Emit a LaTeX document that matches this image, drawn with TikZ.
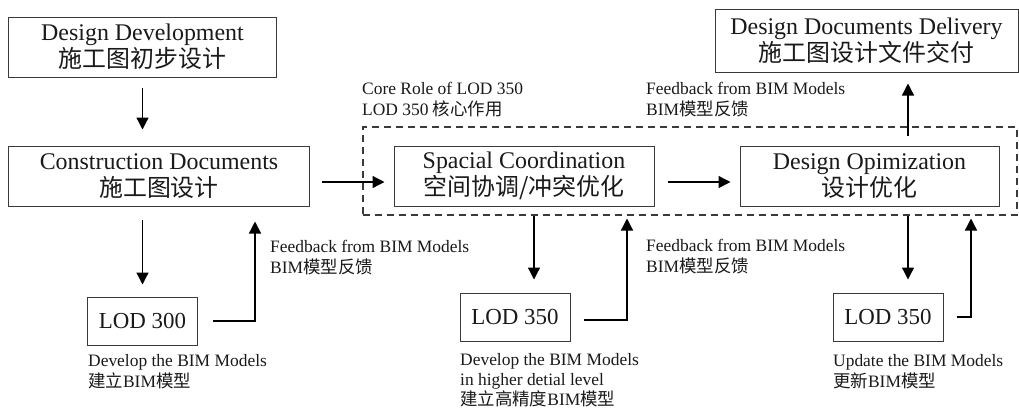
\documentclass[tikz,border=0pt]{standalone}
\usepackage{fontspec}
\setmainfont{Liberation Serif}
\newfontfamily\cjk{Noto Sans CJK SC}
\newcommand{\zh}[1]{{\cjk #1}}
\usetikzlibrary{arrows.meta}
\definecolor{ink}{HTML}{1a1a1a}
\definecolor{frame}{HTML}{3a3a3a}

\begin{document}
\begin{tikzpicture}[x=1bp, y=-1bp,
  >={Triangle[length=12bp,width=12bp]},
  box/.style={draw=frame, line width=1bp, minimum width=#1, minimum height=60bp,
    inner sep=0pt, align=center, text=ink, font=\fontsize{24}{27}\selectfont},
  lodbox/.style={draw=frame, line width=1bp, minimum width=110bp, minimum height=48bp,
    inner sep=0pt, text=ink, font=\fontsize{23}{27}\selectfont},
  note/.style={anchor=north west, inner sep=0pt, align=left, text=ink,
    font=\fontsize{17.5}{21}\selectfont},
  corebox/.style={draw=frame, line width=1.3bp, dash pattern=on 7bp off 5bp,
    minimum width=654bp, minimum height=88bp, inner sep=0pt},
  flow/.style={->, draw=black, line width=1.3bp}]

  \fill[white] (0,0) rectangle (1019,409);
  \useasboundingbox (0,0) rectangle (1019,409);

  % LOD 350 core zone
  \node[corebox] (core) at (690,171) {};

  \node[box=267bp] (dd) at (142.5,47) {Design Development\\\zh{施工图初步设计}};
  \node[box=300bp] (cd) at (159,176) {Construction Documents\\\zh{施工图设计}};
  \node[box=260bp] (sc) at (524,176) {Spacial Coordination\\\zh{空间协调/冲突优化}};
  \node[box=259bp] (op) at (869.5,176) {Design Opimization\\\zh{设计优化}};
  \node[box=303bp, minimum height=63bp] (ddd) at (866.5,40.5) {Design Documents Delivery\\\zh{施工图设计文件交付}};

  \node[lodbox] (lod1) at (142.5,321) {LOD 300};
  \node[lodbox] (lod2) at (515,317) {LOD 350};
  \node[lodbox] (lod3) at (888,317) {LOD 350};

  \node[note] (corenote) at (362,82) {Core Role of LOD 350\\LOD 350 \zh{核心作用}};
  \node[note] (fb1) at (270,240) {Feedback from BIM Models\\BIM\zh{模型反馈}};
  \node[note] (fb2) at (646,239) {Feedback from BIM Models\\BIM\zh{模型反馈}};
  \node[note] (fb3) at (646,82) {Feedback from BIM Models\\BIM\zh{模型反馈}};
  \node[note] (dev1) at (88,354) {Develop the BIM Models\\\zh{建立}BIM\zh{模型}};
  \node[note, font=\fontsize{17.5}{20}\selectfont] (dev2) at (460,353) {Develop the BIM Models\\in higher detial level\\\zh{建立高精度}BIM\zh{模型}};
  \node[note] (upd) at (833,354) {Update the BIM Models\\\zh{更新}BIM\zh{模型}};

  \draw[flow, shorten <=10bp, shorten >=16bp] (dd.south) -- (dd.south |- cd.north);
  \draw[flow, shorten <=13bp, shorten >=12bp] (cd.south -| lod1.north) -- (lod1.north);
  \draw[flow, shorten <=15bp, shorten >=15bp] (lod1.east) -| ([xshift=96bp]cd.south);

  \draw[flow, shorten <=12bp, shorten >=9bp] ([yshift=-6bp]cd.east) -- ([yshift=-6bp]sc.west);
  \draw[flow, shorten <=13bp, shorten >=9bp] ([yshift=-6bp]sc.east) -- ([yshift=-6bp]op.west);

  \draw[flow, shorten <=9bp, shorten >=13bp] ([xshift=10bp]sc.south) -- ([xshift=10bp]sc.south |- lod2.north);
  \draw[flow, shorten <=13bp, shorten >=12bp] ([yshift=-3bp]lod2.east) -| ([xshift=103bp]sc.south);

  \draw[flow, shorten <=10bp, shorten >=11bp] ([xshift=38.5bp]op.north) -- ([xshift=38.5bp]op.north |- ddd.south);
  \draw[flow, shorten <=9bp, shorten >=13bp] ([xshift=38.5bp]op.south) -- ([xshift=38.5bp]op.south |- lod3.north);
  \draw[flow, shorten <=13bp, shorten >=12bp] (lod3.east) -| ([xshift=101.5bp]op.south);

\end{tikzpicture}
\end{document}
